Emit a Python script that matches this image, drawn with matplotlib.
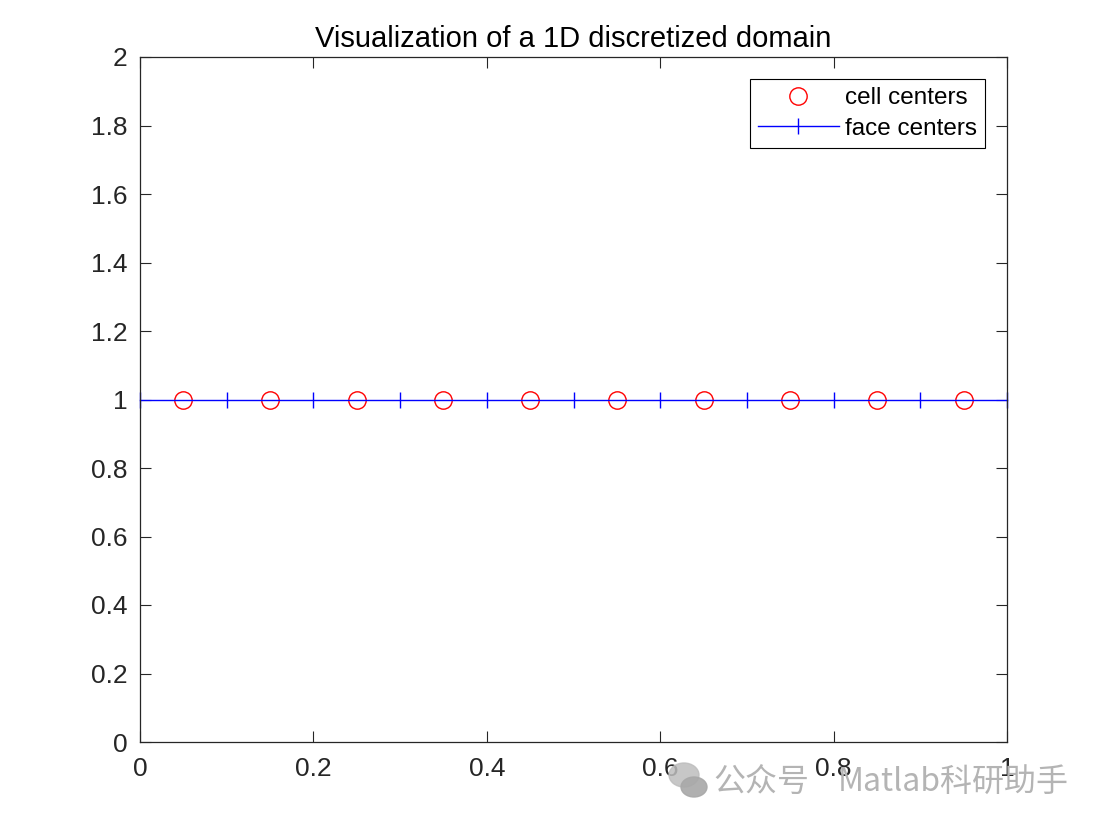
import numpy as np
import matplotlib
matplotlib.use("Agg")
import matplotlib.pyplot as plt
from matplotlib.patches import Ellipse

# face and cell positions of the 1D mesh
face_x = [0.0, 0.1, 0.2, 0.3, 0.4, 0.5, 0.6, 0.7, 0.8, 0.9, 1.0]
face_y = [1, 1, 1, 1, 1, 1, 1, 1, 1, 1, 1]
cell_x = [0.05, 0.15, 0.25, 0.35, 0.45, 0.55, 0.65, 0.75, 0.85, 0.95]
cell_y = [1, 1, 1, 1, 1, 1, 1, 1, 1, 1]
x_ticks = [0, 0.2, 0.4, 0.6, 0.8, 1]
x_labels = ["0", "0.2", "0.4", "0.6", "0.8", "1"]
y_ticks = [0, 0.2, 0.4, 0.6, 0.8, 1, 1.2, 1.4, 1.6, 1.8, 2]
y_labels = ["0", "0.2", "0.4", "0.6", "0.8", "1", "1.2", "1.4", "1.6", "1.8", "2"]

plt.rcParams['font.family'] = ['Liberation Sans', 'DejaVu Sans']

W, H = 1102, 824
fig = plt.figure(figsize=(W / 100, H / 100), dpi=100)
ax = fig.add_axes([140 / W, 1 - 742 / H, 867 / W, 685 / H])

ax.plot(cell_x, cell_y, 'o', color='red', markerfacecolor='none',
        markersize=12.5, markeredgewidth=1.0, label='cell centers')
ax.plot(face_x, face_y, '-', color='blue', marker='|', markersize=11.5,
        linewidth=1.0, markeredgewidth=1.0, label='face centers', clip_on=False)

ax.set_xlim(0, 1)
ax.set_ylim(0, 2)
ax.set_xticks(x_ticks)
ax.set_xticklabels(x_labels)
ax.set_yticks(y_ticks)
ax.set_yticklabels(y_labels)
ax.tick_params(direction='in', length=8, width=0.8, labelsize=19, colors='#262626',
               top=True, right=True, pad=9)
ax.tick_params(axis='x', pad=11)
for s in ax.spines.values():
    s.set_color('#262626')
    s.set_linewidth(0.9)

ax.set_title("Visualization of a 1D discretized domain", fontsize=21, pad=7)

leg = ax.legend(loc='upper right', fontsize=17.5, fancybox=False, framealpha=1,
                edgecolor='black', handlelength=3.3, borderpad=0.35,
                labelspacing=0.35, handletextpad=0.25, borderaxespad=0.9)
leg.get_frame().set_linewidth(0.8)

# watermark (grey chat icon + account name)
fig.add_artist(Ellipse((684 / W, 1 - 775 / H), 30 / W, 24 / H,
                       transform=fig.transFigure, color='#bdbdbd', alpha=0.85))
fig.add_artist(Ellipse((694 / W, 1 - 787 / H), 26 / W, 20 / H,
                       transform=fig.transFigure, color='#a8a8a8', alpha=0.9))
wm = dict(fontsize=23, color='#b4b4b4', ha='left', va='center',
          family=['Noto Sans CJK SC', 'DejaVu Sans'])
fig.text(713 / W, 1 - 782 / H, "公众号", **wm)
fig.text(838 / W, 1 - 782 / H, "Matlab科研助手", **wm)

fig.savefig("out.png", dpi=100)
